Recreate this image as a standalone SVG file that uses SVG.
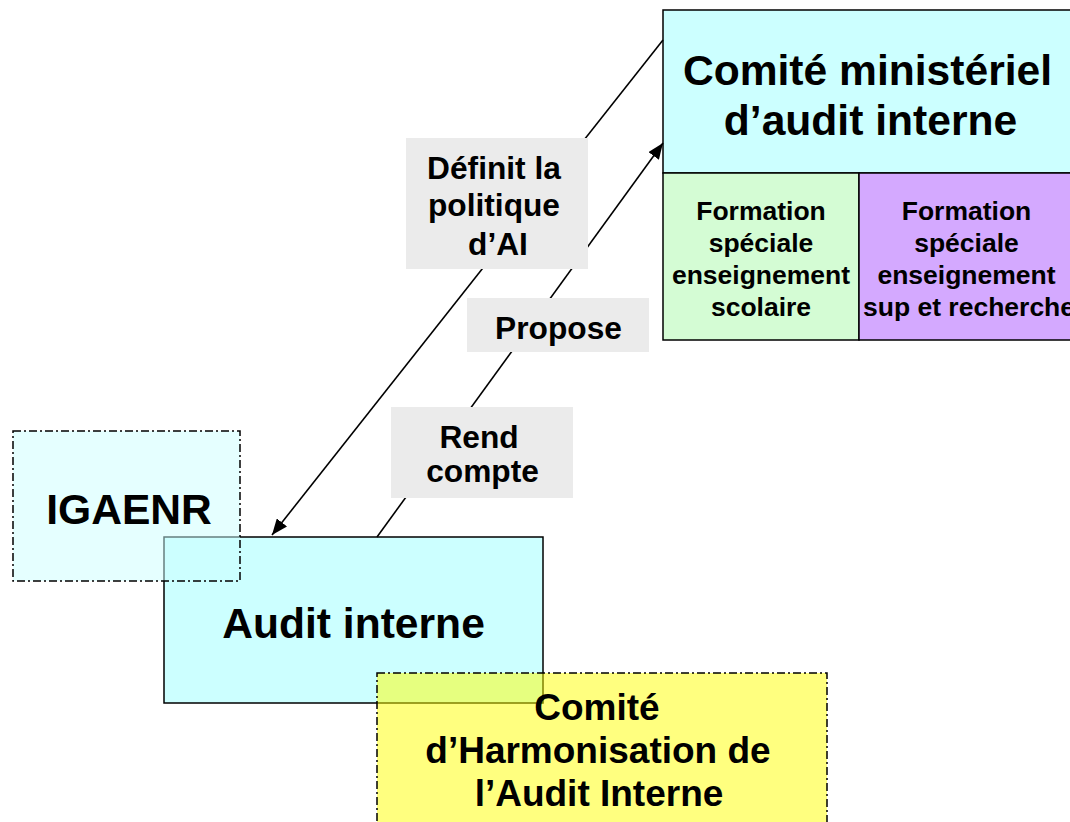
<svg xmlns="http://www.w3.org/2000/svg" width="1070" height="822" viewBox="0 0 1070 822">
<style>
text{font-family:"Liberation Sans",Arial,sans-serif;font-weight:bold;fill:#000;text-anchor:middle}
.box{stroke:#000;stroke-width:1.5}
.dd{stroke:#000;stroke-width:1.5;stroke-dasharray:8 3 2 3}
.lbl{fill:#ebebeb}
.conn{stroke:#000;stroke-width:1.6;fill:none}
</style>
<defs>
<marker id="ah" viewBox="0 0 16 13" refX="16" refY="6.5" markerWidth="16" markerHeight="13" markerUnits="userSpaceOnUse" orient="auto">
<path d="M0,0 L16,6.5 L0,13 z" fill="#000"/>
</marker>
</defs>
<rect width="1070" height="822" fill="#fff"/>
<g id="comite-ministeriel">
<rect class="box" x="663" y="10" width="420" height="163" fill="#ccffff"/>
<text font-size="42.6" x="867.5" y="85">Comité ministériel</text>
<text font-size="42.6" x="870.5" y="135">d’audit interne</text>
</g>
<g id="formation-scolaire">
<rect class="box" x="663" y="173" width="196" height="167" fill="#d4fcd4"/>
<text font-size="26.5"><tspan x="761" y="220">Formation</tspan><tspan x="761" y="252">spéciale</tspan><tspan x="761" y="284">enseignement</tspan><tspan x="761" y="316">scolaire</tspan></text>
</g>
<g id="formation-sup">
<rect class="box" x="859" y="173" width="220" height="167" fill="#d4a9ff"/>
<text font-size="26.5"><tspan x="966.5" y="220">Formation</tspan><tspan x="966.5" y="252">spéciale</tspan><tspan x="966.5" y="284">enseignement</tspan><tspan x="969" y="316">sup et recherche</tspan></text>
</g>
<g id="audit-interne">
<rect class="box" x="164" y="537" width="379" height="166" fill="#ccffff"/>
<text font-size="42.6" x="353.5" y="638">Audit interne</text>
</g>
<g id="igaenr">
<rect class="dd" x="13" y="431" width="227" height="150" fill="#ccffff" fill-opacity="0.5"/>
<text font-size="42.6" x="129" y="524">IGAENR</text>
</g>
<g id="comite-harmonisation">
<rect class="dd" x="377" y="673" width="450" height="160" fill="#ffff00" fill-opacity="0.5"/>
<text font-size="37"><tspan x="597" y="720">Comité</tspan><tspan x="598" y="763">d’Harmonisation de</tspan><tspan x="599" y="806">l’Audit Interne</tspan></text>
</g>
<g id="connectors">
<line class="conn" x1="663" y1="40" x2="272" y2="535" marker-end="url(#ah)"/>
<line class="conn" x1="377" y1="537" x2="663" y2="143" marker-end="url(#ah)"/>
<g id="label-definit">
<rect class="lbl" x="406" y="138" width="182" height="131"/>
<text font-size="31.7"><tspan x="494" y="179">Définit la</tspan><tspan x="494" y="216">politique</tspan><tspan x="498" y="255">d’AI</tspan></text>
</g>
<g id="label-propose">
<rect class="lbl" x="467" y="298" width="182" height="54"/>
<text font-size="31.7" x="558.5" y="339">Propose</text>
</g>
<g id="label-rend">
<rect class="lbl" x="391" y="407" width="182" height="91"/>
<text font-size="31.7"><tspan x="479" y="448">Rend</tspan><tspan x="482.5" y="482">compte</tspan></text>
</g>
</g>
</svg>
